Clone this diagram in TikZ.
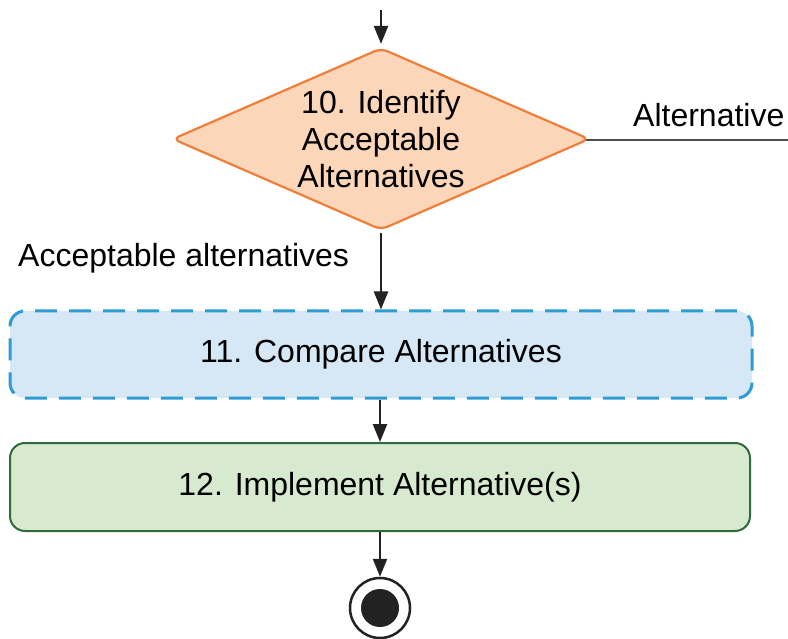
\documentclass[tikz,border=0pt]{standalone}
\usepackage{fontspec}
\setmainfont{Liberation Sans}
\usetikzlibrary{shapes.geometric,arrows.meta,backgrounds}
\definecolor{decfill}{HTML}{FCD6B8}
\definecolor{decline}{HTML}{EE7E3A}
\definecolor{cmpfill}{HTML}{D6E7F5}
\definecolor{cmpline}{HTML}{2E9CD2}
\definecolor{impfill}{HTML}{D7EACF}
\definecolor{impline}{HTML}{2F6A3A}
\definecolor{wire}{HTML}{222222}
\tikzset{
  txt/.style={font=\fontsize{32}{37}\selectfont, text=black},
  decision/.style={diamond, draw=decline, fill=decfill, line width=2.2pt,
    minimum width=417, minimum height=182, inner sep=0pt, rounded corners=7},
  cmpbox/.style={rectangle, draw=cmpline, fill=cmpfill, line width=3pt,
    dash pattern=on 22pt off 12pt, rounded corners=15,
    minimum width=742, minimum height=87, inner sep=0pt, txt},
  impbox/.style={rectangle, draw=impline, fill=impfill, line width=2pt,
    rounded corners=15, minimum width=740, minimum height=88, inner sep=0pt, txt},
  flow/.style={draw=wire, line width=2.3pt, -{Triangle[length=18pt,width=14pt]}},
  plain/.style={draw=wire!80, line width=2.2pt},
}
\begin{document}
\begin{tikzpicture}[x=1pt,y=-1pt]
\useasboundingbox (0,0) rectangle (788,639);

% decision
\node[decision] (d) at (381,139) {};
\node[txt, align=center] (dt) at (381,139) {10. Identify\\Acceptable\\Alternatives};

% process boxes
\node[cmpbox] (cmp) at (381,354.5) {11. Compare Alternatives};
\node[impbox] (imp) at (380,487) {12. Implement Alternative(s)};

% final state
\node[circle, draw=wire, line width=2.5pt, fill=white, minimum size=60pt, inner sep=0pt] (end) at (380,608) {};
\node[circle, fill=wire, minimum size=38pt, inner sep=0pt] (endin) at (end.center) {};

% outgoing branch, kept behind the diamond so it meets the right corner
\coordinate (out) at (788,140);
\begin{scope}[on background layer]
  \draw[plain] ([yshift=-1pt]d.center) -- (out);
\end{scope}

% connectors
\coordinate (in) at (381,10);
\draw[flow] (in) -- ([yshift=3pt]d.north);
\draw[flow] ([yshift=-2pt]d.south) -- (d.south |- cmp.north);
\draw[flow] (cmp.south -| imp.north) -- (imp.north);
\draw[flow] (imp.south) -- (end.north);

% labels
\node[txt, anchor=base west, inner sep=0pt] (lalt) at (633,127) {Alternative};
\node[txt, anchor=base west, inner sep=0pt] (lacc) at (18,267) {Acceptable alternatives};
\end{tikzpicture}
\end{document}
